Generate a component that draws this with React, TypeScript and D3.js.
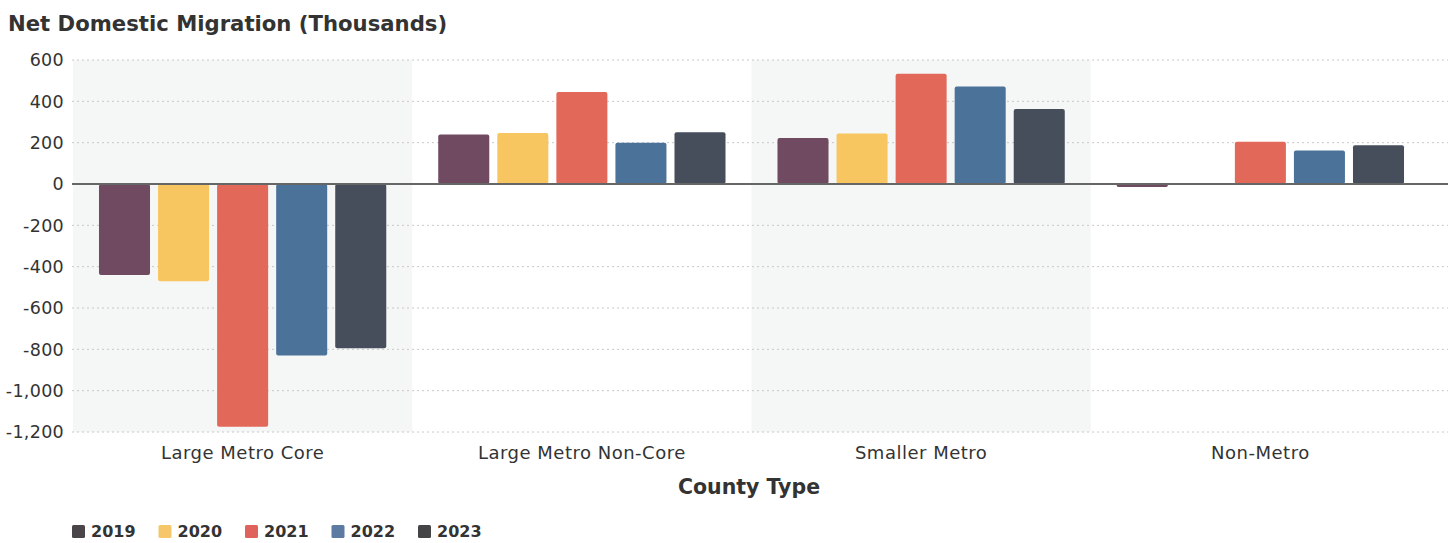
import React from "react";
import * as d3 from "d3";

const categories = ["Large Metro Core", "Large Metro Non-Core", "Smaller Metro", "Non-Metro"];
const years = ["2019", "2020", "2021", "2022", "2023"];
const values2019 = [-440, 240, 223, -15];
const values2020 = [-470, 247, 244, 0];
const values2021 = [-1175, 445, 533, 204];
const values2022 = [-830, 200, 472, 162];
const values2023 = [-795, 250, 363, 188];
const yTicks = [600, 400, 200, 0, -200, -400, -600, -800, -1000, -1200];
const colors = ["#6f4a60", "#f8c660", "#e2685a", "#4b7299", "#464d5b"];
const legendColors = ["#4a4548", "#f6c76a", "#e0625c", "#5d7aa3", "#444446"];

const series = [values2019, values2020, values2021, values2022, values2023];

const W = 1453;
const H = 543;
const FONT = "'DejaVu Sans', 'Noto Sans', sans-serif";

export default function App() {
  const y = d3.scaleLinear().domain([-1200, 600]).range([432, 60]);
  const x0 = d3.scaleBand<string>().domain(categories).range([73, 1430]).padding(0);
  const x1 = d3
    .scaleBand<string>()
    .domain(years)
    .range([0, x0.bandwidth()])
    .paddingInner(0.136)
    .paddingOuter(0.44);
  const fmt = (v: number) => d3.format(",")(v).replace("\u2212", "-");

  return (
    <svg
      width={W}
      height={H}
      style={{ position: "absolute", left: 0, top: 0, background: "#fff" }}
      fontFamily={FONT}
    >
      <rect x={0} y={0} width={W} height={H} fill="#fff" />
      {/* shaded bands */}
      {categories.map((c, i) =>
        i % 2 === 0 ? (
          <rect
            key={c}
            x={x0(c)}
            y={y(600)}
            width={x0.bandwidth()}
            height={y(-1200) - y(600)}
            fill="#f5f6f6"
          />
        ) : null
      )}
      {/* title */}
      <text x={8} y={31} fontSize={21.2} fontWeight={700} fill="#333">
        Net Domestic Migration (Thousands)
      </text>
      {/* gridlines */}
      {yTicks.map((t) =>
        t !== 0 ? (
          <line
            key={t}
            x1={72}
            x2={1448}
            y1={y(t)}
            y2={y(t)}
            stroke="#c8c8c8"
            strokeWidth={1}
            strokeDasharray="2,3"
          />
        ) : null
      )}
      {/* y tick labels */}
      {yTicks.map((t) => (
        <text
          key={t}
          x={64}
          y={y(t)}
          dy="0.36em"
          textAnchor="end"
          fontSize={17.5}
          letterSpacing={0.3}
          fill="#333"
        >
          {fmt(t)}
        </text>
      ))}
      {/* bars */}
      {categories.map((c, ci) => (
        <g key={c} transform={`translate(${x0(c)},0)`}>
          {years.map((yr, yi) => {
            const v = series[yi][ci];
            const y0 = y(0);
            const yv = y(v);
            const top = Math.min(y0, yv);
            const h = Math.abs(yv - y0);
            if (h < 0.5) return null;
            return (
              <rect
                key={yr}
                x={x1(yr)}
                y={top}
                width={x1.bandwidth()}
                height={h}
                rx={2}
                fill={colors[yi]}
              />
            );
          })}
        </g>
      ))}
      {/* zero line */}
      <line x1={72} x2={1448} y1={y(0)} y2={y(0)} stroke="#666" strokeWidth={2} />
      {/* category labels */}
      {categories.map((c) => (
        <text
          key={c}
          x={(x0(c) as number) + x0.bandwidth() / 2}
          y={459}
          textAnchor="middle"
          fontSize={18}
          letterSpacing={0.5}
          fill="#333"
        >
          {c}
        </text>
      ))}
      <text x={749} y={494} textAnchor="middle" fontSize={20.5} fontWeight={700} fill="#333">
        County Type
      </text>
      {/* legend */}
      {years.map((yr, i) => {
        const lx = 72 + i * 86.5;
        return (
          <g key={yr} transform={`translate(${lx},0)`}>
            <rect x={0} y={525} width={13} height={13} rx={1.5} fill={legendColors[i]} />
            <text x={19} y={531.5} dy="0.36em" fontSize={16} fontWeight={700} fill="#333">
              {yr}
            </text>
          </g>
        );
      })}
    </svg>
  );
}
